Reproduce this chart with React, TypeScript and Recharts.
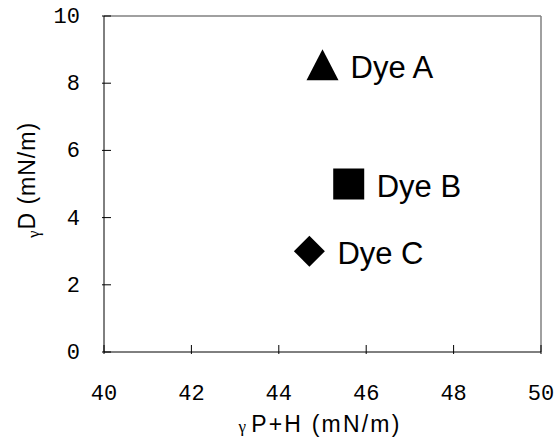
import React from 'react';
import { ScatterChart, Scatter, XAxis, YAxis, ReferenceLine, LabelList } from 'recharts';

const dyeNames = ['Dye A', 'Dye B', 'Dye C'];
const xValues = [45.0, 45.6, 44.7];
const yValues = [8.55, 5.0, 3.0];
const xTicks = [40, 42, 44, 46, 48, 50];
const yTicks = [0, 2, 4, 6, 8, 10];

const points = dyeNames.map((name, i) => ({ name, x: xValues[i], y: yValues[i] }));

const monoFont = '"Liberation Mono", "Courier New", monospace';
const sansFont = '"Liberation Sans", Arial, sans-serif';

const XTick = (props: any) => {
  const { x, y, payload } = props;
  return (
    <g>
      <line x1={x} y1={y} x2={x} y2={y - 9} stroke="#000" strokeWidth={1} />
      <text x={x} y={y + 46} textAnchor="middle" fontFamily={monoFont} fontSize={22} fill="#000">
        {payload.value}
      </text>
    </g>
  );
};

const YTick = (props: any) => {
  const { x, y, payload } = props;
  return (
    <g>
      <line x1={x} y1={y} x2={x + 9} y2={y} stroke="#000" strokeWidth={1} />
      <text x={x - 22} y={y + 7} textAnchor="end" fontFamily={monoFont} fontSize={22} fill="#000">
        {payload.value}
      </text>
    </g>
  );
};

const Marker = (props: any) => {
  const { cx, cy, payload } = props;
  const idx = dyeNames.indexOf(payload.name);
  const h = 15.5;
  if (idx === 0) {
    return <polygon points={`${cx},${cy - h} ${cx + 16},${cy + h} ${cx - 16},${cy + h}`} fill="#000" />;
  }
  if (idx === 1) {
    return <rect x={cx - h} y={cy - h} width={2 * h} height={2 * h} fill="#000" />;
  }
  return <polygon points={`${cx},${cy - h} ${cx + h},${cy} ${cx},${cy + h} ${cx - h},${cy}`} fill="#000" />;
};

const DyeLabel = (props: any) => {
  const { x, y, width, height, value } = props;
  const cx = x + width / 2;
  const cy = y + height / 2;
  return (
    <text x={cx + 28} y={cy + 13} fontFamily={sansFont} fontSize={31} fill="#000">
      {value}
    </text>
  );
};

export default function App() {
  return (
    <div style={{ position: 'absolute', left: 0, top: 0, background: '#fff' }}>
      <ScatterChart width={557} height={444} margin={{ top: 16, right: 16, left: 0, bottom: 0 }}>
        <XAxis
          type="number"
          dataKey="x"
          domain={[40, 50]}
          ticks={xTicks}
          height={92}
          stroke="#000"
          tickLine={false}
          tickSize={0}
          tick={<XTick />}
          interval={0}
          allowDataOverflow
        />
        <YAxis
          type="number"
          dataKey="y"
          domain={[0, 10]}
          ticks={yTicks}
          width={104}
          stroke="#000"
          tickLine={false}
          tickSize={0}
          tick={<YTick />}
          interval={0}
          allowDataOverflow
        />
        <ReferenceLine y={10} stroke="#808080" strokeWidth={1.5} />
        <ReferenceLine x={50} stroke="#808080" strokeWidth={1.5} />
        <Scatter data={points} shape={<Marker />} isAnimationActive={false}>
          <LabelList dataKey="name" content={<DyeLabel />} />
        </Scatter>
        <text x={320} y={432} textAnchor="middle" fontFamily={sansFont} fontSize={23} fill="#000" letterSpacing={2.2}>
          <tspan fontSize={17} fontFamily={'"Liberation Serif", serif'}>γ</tspan>
          <tspan dx={3}>P+H (mN/m)</tspan>
        </text>
        <text
          transform="translate(35, 180) rotate(-90)"
          textAnchor="middle"
          fontFamily={sansFont}
          fontSize={23}
          fill="#000"
          letterSpacing={1}
        >
          <tspan fontSize={17} fontFamily={'"Liberation Serif", serif'} dy={4}>γ</tspan>
          <tspan dy={-4}>D (mN/m)</tspan>
        </text>
      </ScatterChart>
    </div>
  );
}
